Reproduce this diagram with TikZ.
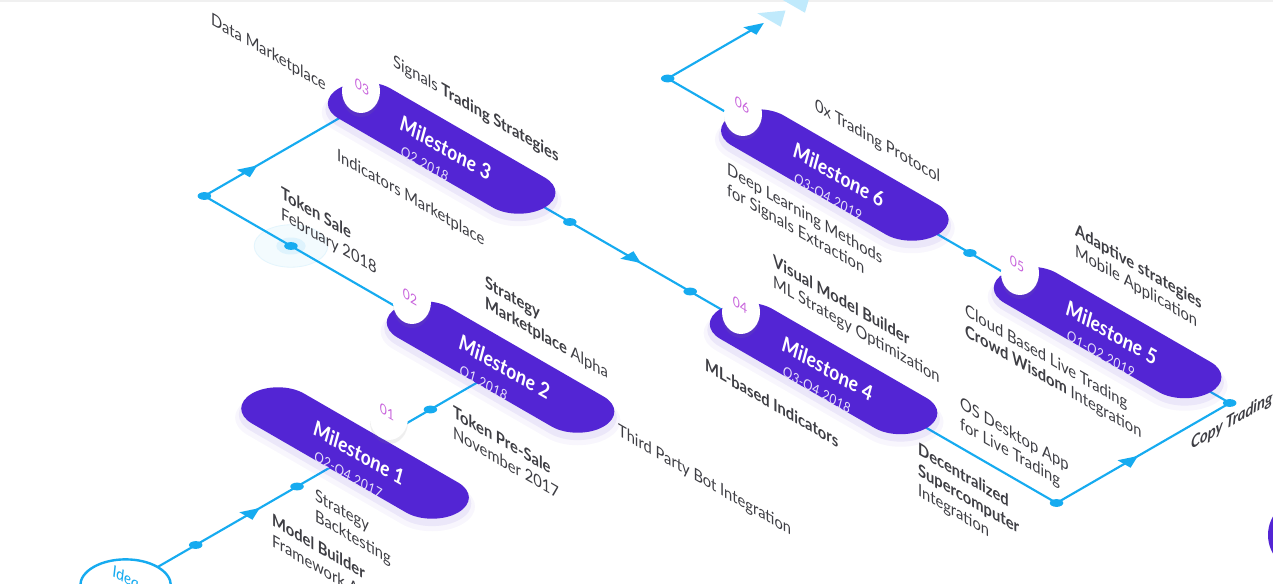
\documentclass[tikz,border=0pt]{standalone}
\usepackage{fontspec}
\setmainfont{Lato}
\usepackage{xcolor}
\usetikzlibrary{shapes.misc,shapes.geometric,shadows}
\definecolor{flowblue}{RGB}{22,171,240}
\definecolor{pillviolet}{RGB}{83,37,212}
\definecolor{badgepink}{RGB}{200,100,220}
\definecolor{labelgray}{RGB}{62,62,68}
\definecolor{fadeblue}{RGB}{192,234,252}
\tikzset{
  ground/.style={cm={0.866,-0.5,0.866,0.5,(0,0)}},
  sidetext/.style={cm={0.866,-0.5,0,1,(0,0)}, inner sep=0pt, align=left,
    text=labelgray, font=\fontsize{17}{20.5}\selectfont},
  risetext/.style={cm={0.866,0.5,0,1,(0,0)}, inner sep=0pt,
    text=labelgray, font=\fontsize{17}{20.5}\selectfont\bfseries\itshape},
  pill/.style={rounded rectangle, minimum width=238pt, minimum height=60pt,
    inner sep=0pt, fill=pillviolet},
  pillglow/.style={pill, opacity=0.07, minimum width=242pt, minimum height=64pt},
  pilltext/.style={cm={0.866,-0.5,0.15,1,(0,0)}, inner sep=0pt, align=left,
    anchor=north west, text=white, font=\fontsize{21}{23}\selectfont\bfseries\itshape},
  badge/.style={ellipse, fill=white, minimum width=38pt, minimum height=44pt,
    inner sep=0pt, drop shadow={shadow xshift=0pt, shadow yshift=-3pt, opacity=0.12}},
  badgenum/.style={sidetext, anchor=center, text=badgepink,
    font=\fontsize{14}{14}\selectfont},
  flowline/.style={flowblue, line width=1.6pt, line join=round},
  idearing/.style={circle, draw=flowblue, line width=1.8pt, fill=white,
    minimum size=74pt, inner sep=0pt},
}
\newcommand{\qdate}[1]{{\fontsize{14}{23}\selectfont\mdseries\color{white!85!pillviolet}\hspace{5pt}#1}}
\begin{document}
\begin{tikzpicture}[x=1pt, y=1pt, scale=0.75, every node/.style={transform shape}]
  \path[use as bounding box, fill=white] (0,0) rectangle (1273,-584);
  \clip (0,0) rectangle (1273,-584);
  \fill[gray!12] (0,0) rectangle (1273,-2.5);

  \begin{scope}[ground]
    \coordinate (start) at (658,-513);
    \coordinate (turn0) at (658,-78);
    \coordinate (bend1) at (314,-78);
    \coordinate (m3end) at (314,107);
    \coordinate (bend2) at (1113,107);
    \coordinate (bend3) at (1113,307);
    \coordinate (bend4) at (464,307);
    \coordinate (finish) at (464,404);

    \fill[flowblue!5] (414,-78) circle[radius=30];
    \draw[flowblue!12, line width=0.6pt] (414,-78) circle[radius=30];
    \fill[flowblue!14] (414,-78) circle[radius=12];

    \draw[flowline] (start) -- (turn0) -- (bend1) -- (m3end) -- (bend2)
      -- (bend3) -- (bend4) -- (finish);

    \foreach \u/\v in {658/-432, 658/-315, 658/-161, 414/-78, 314/-78,
      551/107, 690/107, 1113/107, 1113/307, 813/307, 464/307}
      \fill[flowblue] (\u,\v) circle[radius=5.5];

    \foreach \u/\v in {658/-366, 314/-25, 1113/193, 464/410}
      \fill[flowblue] (\u-7.5,\v-8) -- (\u,\v+8) -- (\u+7.5,\v-8) -- cycle;
    \fill[flowblue] (617,99.5) -- (633,107) -- (617,114.5) -- cycle;

    \foreach \v in {424,452}
      \fill[fadeblue] (450.5,\v) -- (464,\v+19) -- (477.5,\v) -- cycle;

    \foreach \n/\u/\v in {1/658/-248, 2/656/-78, 3/403/107, 4/844/107,
      5/972/307, 6/657/307} {
      \node[pillglow] at (\u+6,\v-6) {};
      \node[pillglow, opacity=0.04, minimum width=248pt, minimum height=70pt]
        at (\u+9,\v-9) {};
      \node[pill] (m\n) at (\u,\v) {};
    }
    \node[idearing] (idea) at (start) {};
  \end{scope}

  \foreach \n/\x/\y/\nx/\ny in {1/389/418/387/412, 2/412/302/410/297,
    3/361/91/362/87, 4/741/312/740/305, 5/1020/273/1017/264, 6/743/114/742/105} {
    \node[badge] (b\n) at (\x,-\y) {};
    \node[badgenum] (n\n) at (\nx,-\ny) {0\n};
  }

  \node[pilltext] (t1) at ([shift={(-40,34)}]m1.center)
    {Milestone 1\\\qdate{Q2-Q4 2017}};
  \node[pilltext] (t2) at ([shift={(-40,34)}]m2.center)
    {Milestone 2\\\qdate{Q1 2018}};
  \node[pilltext] (t3) at ([shift={(-40,34)}]m3.center)
    {Milestone 3\\\qdate{Q2 2018}};
  \node[pilltext] (t4) at ([shift={(-40,34)}]m4.center)
    {Milestone 4\\\qdate{Q3-Q4 2018}};
  \node[pilltext] (t5) at ([shift={(-40,34)}]m5.center)
    {Milestone 5\\\qdate{Q1-Q2 2019}};
  \node[pilltext] (t6) at ([shift={(-40,34)}]m6.center)
    {Milestone 6\\\qdate{Q3-Q4 2019}};

  \node[sidetext, anchor=center, text=flowblue,
    font=\fontsize{17}{20}\selectfont\itshape] (ideatext)
    at ([shift={(0,8)}]idea.center) {Idea};

  \node[sidetext, anchor=north west] (datamkt) at (211,-12) {Data Marketplace};
  \node[sidetext, anchor=north west] (signals) at (393,-54)
    {Signals \textbf{Trading Strategies}};
  \node[sidetext, anchor=north west] (indmkt) at (337,-148) {Indicators Marketplace};
  \node[sidetext, anchor=north west] (tokensale) at (281,-186)
    {\textbf{Token Sale}\\February 2018};
  \node[sidetext, anchor=north west] (stratmkt) at (485,-275)
    {\textbf{Strategy}\\\textbf{Marketplace} Alpha};
  \node[sidetext, anchor=north west] (presale) at (453,-405)
    {\textbf{Token Pre-Sale}\\November 2017};
  \node[sidetext, anchor=north west] (botint) at (618,-423) {Third Party Bot Integration};
  \node[sidetext, anchor=north west] (backtest) at (315,-488) {Strategy\\Backtesting};
  \node[sidetext, anchor=north west] (modelb) at (272,-513)
    {\textbf{Model Builder}\\Framework AI};
  \node[sidetext, anchor=north west] (mlind) at (705,-358) {\textbf{ML-based Indicators}};
  \node[sidetext, anchor=north west] (visual) at (773,-254)
    {\textbf{Visual Model Builder}\\ML Strategy Optimization};
  \node[sidetext, anchor=north west] (deepl) at (727,-162)
    {Deep Learning Methods\\for Signals Extraction};
  \node[sidetext, anchor=north west] (zerox) at (815,-98) {0x Trading Protocol};
  \node[sidetext, anchor=north west] (osapp) at (960,-396)
    {OS Desktop App\\for Live Trading};
  \node[sidetext, anchor=north west] (supercomp) at (918,-442)
    {\textbf{Decentralized}\\\textbf{Supercomputer}\\Integration};
  \node[sidetext, anchor=north west] (cloud) at (965,-303)
    {Cloud Based Live Trading\\\textbf{Crowd Wisdom} Integration};
  \node[sidetext, anchor=north west] (adaptive) at (1075,-223)
    {\textbf{Adaptive strategies}\\Mobile Application};
  \node[risetext, anchor=base west] (copytr) at (1191,-450) {Copy Trading};

  \fill[pillviolet] (1305,-535) circle[radius=37];
\end{tikzpicture}
\end{document}
